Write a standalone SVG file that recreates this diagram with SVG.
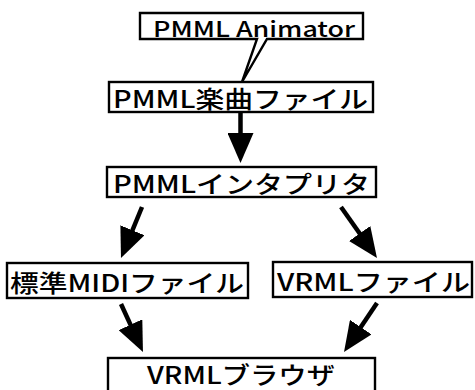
<svg xmlns="http://www.w3.org/2000/svg" width="475" height="390" viewBox="0 0 475 390">
<style>
.box{fill:#fff;stroke:#000;stroke-width:2.4}
.t{font-family:"Noto Sans CJK JP","Noto Sans",sans-serif;font-weight:500;fill:#000}
.c{stroke:#000;stroke-width:4.5;fill:none}
</style>
<defs>
<marker id="ah" markerUnits="userSpaceOnUse" viewBox="0 0 30 26" refX="20" refY="13" markerWidth="30" markerHeight="26" orient="auto">
<path d="M0,0 L30,13 L0,26 Z" fill="#000"/>
</marker>
</defs>
<rect width="475" height="390" fill="#fff"/>
<g id="connectors">
<line class="c" x1="240.5" y1="112" x2="240.5" y2="153" marker-end="url(#ah)"/>
<line class="c" x1="142" y1="207" x2="124.8" y2="248.8" marker-end="url(#ah)"/>
<line class="c" x1="341" y1="207" x2="371.2" y2="249.8" marker-end="url(#ah)"/>
<line class="c" x1="121" y1="304" x2="138.8" y2="342.9" marker-end="url(#ah)"/>
<line class="c" x1="377" y1="303" x2="349.6" y2="343.7" marker-end="url(#ah)"/>
</g>
<g id="animator">
<path class="box" d="M140,13 H363 V39 H267 L242,82 L257,39 H140 Z"/>
<text class="t" x="153" y="37" font-size="22" textLength="202" lengthAdjust="spacingAndGlyphs">PMML Animator</text>
</g>
<g id="score">
<rect class="box" x="109" y="82" width="264" height="30"/>
<text class="t" x="113" y="108" font-size="24" textLength="255" lengthAdjust="spacingAndGlyphs">PMML楽曲ファイル</text>
</g>
<g id="interpreter">
<rect class="box" x="107" y="167" width="269" height="30"/>
<text class="t" x="113" y="193" font-size="24" textLength="257" lengthAdjust="spacingAndGlyphs">PMMLインタプリタ</text>
</g>
<g id="midi">
<rect class="box" x="7" y="263" width="241" height="35"/>
<text class="t" x="10" y="292" font-size="24" textLength="234" lengthAdjust="spacingAndGlyphs">標準MIDIファイル</text>
</g>
<g id="vrmlfile">
<rect class="box" x="273" y="262" width="199" height="35"/>
<text class="t" x="277" y="291" font-size="24" textLength="193" lengthAdjust="spacingAndGlyphs">VRMLファイル</text>
</g>
<g id="browser">
<rect class="box" x="108" y="358" width="267" height="40"/>
<text class="t" x="147" y="384" font-size="24" textLength="188" lengthAdjust="spacingAndGlyphs">VRMLブラウザ</text>
</g>
</svg>
